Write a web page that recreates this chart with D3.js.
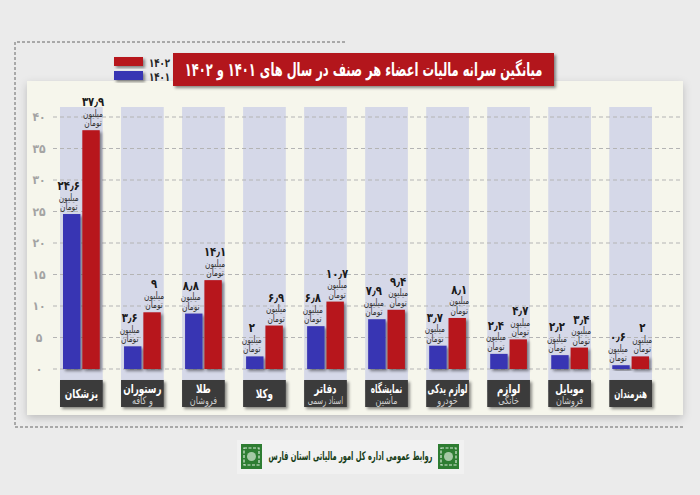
<!DOCTYPE html>
<html>
<head>
<meta charset="utf-8">
<script src="https://cdn.jsdelivr.net/npm/d3@7"></script>
<style>
  body { margin: 0; background: #ebebeb; }
  svg { display: block; font-family: "DejaVu Sans Condensed", "DejaVu Sans", sans-serif; }
</style>
</head>
<body>
<svg id="chart" width="700" height="495"></svg>
<script>
var categories = ["پزشکان", "رستوران", "طلا", "وکلا", "دفاتر", "نمایشگاه", "لوازم یدکی", "لوازم", "موبایل", "هنرمندان"];
var subLabels = ["", "و کافه", "فروشان", "", "اسناد رسمی", "ماشین", "خودرو", "خانگی", "فروشان", ""];
var years = ["1401", "1402"];
var yearLabels = ["۱۴۰۱", "۱۴۰۲"];
var values1401 = [24.6, 3.6, 8.8, 2, 6.8, 7.9, 3.7, 2.4, 2.2, 0.6];
var values1402 = [37.9, 9, 14.1, 6.9, 10.7, 9.4, 8.1, 4.7, 3.4, 2];
var yTicks = [0, 5, 10, 15, 20, 25, 30, 35, 40];
var title = "میانگین سرانه مالیات اعضاء هر صنف در سال های ۱۴۰۱ و ۱۴۰۲";
var footer = "روابط عمومی اداره کل امور مالیاتی استان فارس";

(function Chart() {
  var svg = d3.select("#chart");
  var colors = {"1401": "#3935b3", "1402": "#b7141b"};

  function fa(n) {
    return String(n).replace(".", "٫").replace(/[0-9]/g, function (c) { return "۰۱۲۳۴۵۶۷۸۹"[+c]; });
  }

  // text squeezed horizontally, the original uses a narrow Persian face
  function narrow(sel, tx, ty, sx) {
    return sel.append("g")
      .attr("transform", "translate(" + tx + "," + ty + ") scale(" + sx + ",1)")
      .append("text");
  }

  var data = categories.map(function (c, i) {
    return {cat: c, sub: subLabels[i], vals: [
      {year: "1401", value: values1401[i]},
      {year: "1402", value: values1402[i]}
    ]};
  });

  var defs = svg.append("defs");
  var sh = defs.append("filter").attr("id", "shadow")
    .attr("x", "-30%").attr("y", "-30%").attr("width", "160%").attr("height", "160%");
  sh.append("feDropShadow").attr("dx", 2).attr("dy", 2).attr("stdDeviation", 1.6)
    .attr("flood-color", "#000").attr("flood-opacity", 0.45);
  var soft = defs.append("filter").attr("id", "soft")
    .attr("x", "-10%").attr("y", "-10%").attr("width", "120%").attr("height", "130%");
  soft.append("feDropShadow").attr("dx", 0).attr("dy", 3).attr("stdDeviation", 4)
    .attr("flood-color", "#000").attr("flood-opacity", 0.2);

  // dashed frame
  svg.append("path")
    .attr("d", "M345,42 L15,42 L15,427 L683,427")
    .attr("fill", "none").attr("stroke", "#666").attr("stroke-width", 1)
    .attr("stroke-dasharray", "3,2");

  // panel
  svg.append("rect")
    .attr("x", 27).attr("y", 81).attr("width", 656).attr("height", 334)
    .attr("fill", "#f6f6ec").attr("filter", "url(#soft)");

  var x = d3.scaleBand().domain(categories).range([60, 652]).paddingInner(0.3);
  var xs = d3.scaleBand().domain(years).range([3, x.bandwidth() - 3]).paddingInner(0.1);
  var y = d3.scaleLinear().domain([0, 40]).range([369, 117]);

  // column backgrounds
  svg.append("g").selectAll("rect")
    .data(categories)
    .enter().append("rect")
      .attr("x", function (d) { return x(d); })
      .attr("y", 107)
      .attr("width", x.bandwidth())
      .attr("height", 285)
      .attr("fill", "#d5d8e8");

  // grid + ticks
  var grid = svg.append("g");
  grid.selectAll("line")
    .data(yTicks)
    .enter().append("line")
      .attr("x1", 53).attr("x2", 683)
      .attr("y1", function (d) { return y(d); })
      .attr("y2", function (d) { return y(d); })
      .attr("stroke", "#b4b4b4")
      .attr("stroke-dasharray", "4,3");
  grid.selectAll("text")
    .data(yTicks)
    .enter().append("text")
      .attr("x", 39)
      .attr("y", function (d) { return y(d) + 4; })
      .attr("text-anchor", "middle")
      .attr("font-size", 12)
      .attr("font-weight", "bold")
      .attr("fill", "#a3a3a3")
      .text(function (d) { return fa(d); });

  // bars
  var groups = svg.append("g").selectAll(".cat")
    .data(data)
    .enter().append("g")
      .attr("class", "cat")
      .attr("transform", function (d) { return "translate(" + x(d.cat) + ",0)"; });

  groups.selectAll("rect")
    .data(function (d) { return d.vals; })
    .enter().append("rect")
      .attr("x", function (d) { return xs(d.year); })
      .attr("y", function (d) { return y(d.value); })
      .attr("width", xs.bandwidth())
      .attr("height", function (d) { return y(0) - y(d.value); })
      .attr("fill", function (d) { return colors[d.year]; })
      .attr("filter", "url(#shadow)");

  var lab = groups.selectAll(".lab")
    .data(function (d) { return d.vals; })
    .enter().append("g")
      .attr("class", "lab")
      .attr("transform", function (d) {
        var shift = d.year === "1401" ? -3 : 2;
        return "translate(" + (xs(d.year) + xs.bandwidth() / 2 + shift) + "," + y(d.value) + ")";
      });
  lab.each(function (d) {
    var l = d3.select(this);
    narrow(l, 0, -24, 0.9)
      .attr("text-anchor", "middle")
      .attr("font-size", 12.5)
      .attr("font-weight", "bold")
      .attr("fill", "#1a1a1a")
      .text(fa(d.value));
    narrow(l, 0, -13.5, 0.82)
      .attr("text-anchor", "middle")
      .attr("font-size", 10)
      .attr("fill", "#333")
      .text("میلیون");
    narrow(l, 0, -4, 0.82)
      .attr("text-anchor", "middle")
      .attr("font-size", 10)
      .attr("fill", "#333")
      .text("تومان");
  });

  // category boxes
  var boxes = svg.append("g").selectAll(".box")
    .data(data)
    .enter().append("g")
      .attr("class", "box")
      .attr("transform", function (d) { return "translate(" + x(d.cat) + ",380)"; });
  boxes.append("rect")
    .attr("width", x.bandwidth())
    .attr("height", 27)
    .attr("fill", "#3b3b3b")
    .attr("filter", "url(#shadow)");
  boxes.each(function (d) {
    var b = d3.select(this);
    narrow(b, x.bandwidth() / 2, d.sub ? 12.5 : 18, d.cat.length > 7 ? 0.64 : 0.78)
      .attr("text-anchor", "middle")
      .attr("font-size", 12.5)
      .attr("font-weight", "bold")
      .attr("fill", "#fff")
      .text(d.cat);
    if (d.sub) {
      narrow(b, x.bandwidth() / 2, 24, d.sub.length > 7 ? 0.72 : 0.85)
        .attr("text-anchor", "middle")
        .attr("font-size", 10.5)
        .attr("fill", "#cfcfcf")
        .text(d.sub);
    }
  });

  // legend
  var legend = svg.append("g").selectAll(".leg")
    .data(years.slice().reverse())
    .enter().append("g")
      .attr("class", "leg")
      .attr("transform", function (d, i) { return "translate(114," + (57 + i * 14) + ")"; });
  legend.append("rect")
    .attr("width", 29).attr("height", 9)
    .attr("fill", function (d) { return colors[d]; })
    .attr("filter", "url(#shadow)");
  legend.each(function (d) {
    narrow(d3.select(this), 35, 9.5, 0.8)
      .attr("font-size", 12)
      .attr("font-weight", "bold")
      .attr("fill", "#222")
      .text(yearLabels[years.indexOf(d)]);
  });

  // title banner
  svg.append("rect")
    .attr("x", 173).attr("y", 53).attr("width", 381).attr("height", 33)
    .attr("fill", "#b3121a")
    .attr("filter", "url(#shadow)");
  narrow(svg, 363.5, 76, 0.69)
    .attr("text-anchor", "middle")
    .attr("font-size", 18.5)
    .attr("font-weight", "bold")
    .attr("fill", "#fff")
    .text(title);

  // footer
  var foot = svg.append("g");
  foot.append("rect")
    .attr("x", 237).attr("y", 440).attr("width", 227).attr("height", 34)
    .attr("fill", "#f1f1f1");
  [241, 438].forEach(function (lx) {
    var logo = foot.append("g").attr("transform", "translate(" + lx + ",444)");
    logo.append("rect").attr("width", 21).attr("height", 25).attr("fill", "#2e7d32");
    logo.append("rect").attr("x", 3).attr("y", 4).attr("width", 15).attr("height", 17)
      .attr("fill", "none").attr("stroke", "#d9ecd9").attr("stroke-width", 1.2)
      .attr("stroke-dasharray", "3,1.5");
    logo.append("circle").attr("cx", 10.5).attr("cy", 12.5).attr("r", 4.5).attr("fill", "#a5c8a5");
  });
  narrow(foot, 350.5, 460, 0.62)
    .attr("text-anchor", "middle")
    .attr("font-size", 12)
    .attr("font-weight", "bold")
    .attr("fill", "#173d17")
    .text(footer);
})();
</script>
</body>
</html>
